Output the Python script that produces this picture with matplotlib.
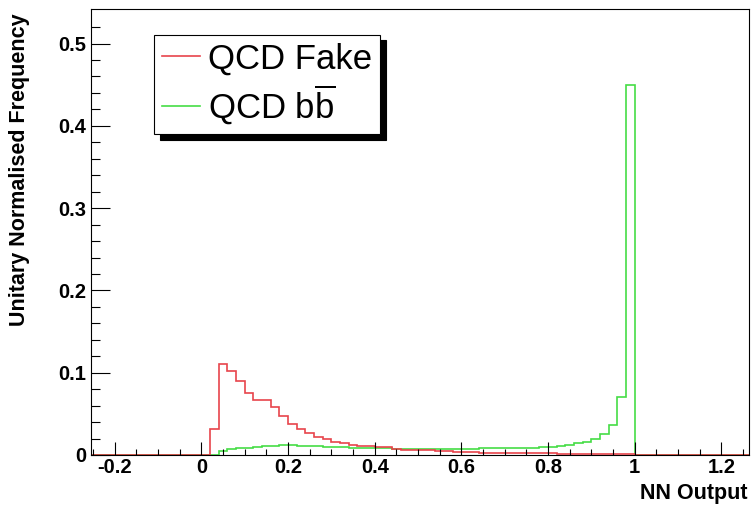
import numpy as np
import matplotlib
matplotlib.use("Agg")
import matplotlib.pyplot as plt

plt.rcParams['font.family'] = ['Liberation Sans', 'DejaVu Sans']

# NN output histograms, 0.02 wide bins from 0.00 to 1.00
bin_width = 0.02
qcd_fake = [0.000, 0.031, 0.110, 0.102, 0.090, 0.075, 0.067, 0.067, 0.058, 0.048,
            0.038, 0.032, 0.027, 0.022, 0.019, 0.016, 0.014, 0.012, 0.011, 0.011,
            0.010, 0.010, 0.007, 0.006, 0.006, 0.006, 0.006, 0.005, 0.005, 0.004,
            0.004, 0.004, 0.003, 0.003, 0.003, 0.003, 0.002, 0.002, 0.002, 0.002,
            0.002, 0.001, 0.001, 0.001, 0.001, 0.001, 0.001, 0.001, 0.001, 0.001]
qcd_bb = [0.000, 0.000, 0.005, 0.007, 0.008, 0.009, 0.010, 0.011, 0.011, 0.012,
          0.012, 0.011, 0.011, 0.011, 0.010, 0.010, 0.010, 0.009, 0.009, 0.008,
          0.008, 0.008, 0.007, 0.007, 0.007, 0.007, 0.007, 0.007, 0.007, 0.007,
          0.007, 0.007, 0.008, 0.008, 0.008, 0.008, 0.009, 0.009, 0.009, 0.010,
          0.010, 0.011, 0.012, 0.014, 0.016, 0.020, 0.025, 0.037, 0.070, 0.450]

# empty bins on both sides, like the full histogram range
n_low, n_high = 13, 14
edges = np.round(np.arange(-n_low, len(qcd_fake) + n_high + 1) * bin_width, 2)
fake_full = np.concatenate([np.zeros(n_low), qcd_fake, np.zeros(n_high)])
bb_full = np.concatenate([np.zeros(n_low), qcd_bb, np.zeros(n_high)])

red = '#e8444c'
green = '#45dd45'

fig = plt.figure(figsize=(7.51, 5.08), dpi=100)
ax = fig.add_axes([91 / 751, 53 / 508, 658 / 751, 446 / 508])

ax.stairs(bb_full, edges, color=green, lw=1.2, label=r'QCD b$\mathregular{\overline{b}}$')
ax.stairs(fake_full, edges, color=red, lw=1.2, label='QCD Fake')

ax.set_xlim(-0.255, 1.264)
ax.set_ylim(0, 0.542)
ax.set_xticks([-0.2, 0, 0.2, 0.4, 0.6, 0.8, 1.0, 1.2])
ax.set_xticklabels(['-0.2', '0', '0.2', '0.4', '0.6', '0.8', '1', '1.2'])
ax.set_xticks(np.arange(-0.25, 1.26, 0.05), minor=True)
ax.set_yticks([0, 0.1, 0.2, 0.3, 0.4, 0.5])
ax.set_yticklabels(['0', '0.1', '0.2', '0.3', '0.4', '0.5'])
ax.set_yticks(np.arange(0, 0.54, 0.02), minor=True)

for lab in ax.get_xticklabels() + ax.get_yticklabels():
    lab.set_fontweight('bold')
ax.tick_params(which='both', direction='in', top=False, right=False, width=0.8,
               labelsize=14.5)
ax.tick_params(axis='x', which='major', length=9.5, pad=2)
ax.tick_params(axis='x', which='minor', length=4)
ax.tick_params(axis='y', which='major', length=14, pad=3.5)
ax.tick_params(axis='y', which='minor', length=6.5)
for sp in ax.spines.values():
    sp.set_linewidth(0.8)

fig.text(748 / 751, 1 - 494 / 508, 'NN Output', ha='right', va='center',
         fontsize=15.5, fontweight='bold')
fig.text(20 / 751, 1 - 13 / 508, 'Unitary Normalised Frequency', ha='center', va='top',
         rotation=90, fontsize=15.5, fontweight='bold')

handles, labels = ax.get_legend_handles_labels()
leg = ax.legend(handles[::-1], labels[::-1], loc='upper left',
                bbox_to_anchor=(0.0957, 0.942), borderaxespad=0,
                fontsize=25, fancybox=False, edgecolor='black', framealpha=1,
                handlelength=1.1, handletextpad=0.25, labelspacing=0.2,
                borderpad=0.22,
                shadow={'ox': 4, 'oy': -4, 'facecolor': 'black',
                        'edgecolor': 'black', 'alpha': 1})
leg.get_frame().set_linewidth(0.8)
for ln in leg.get_lines():
    ln.set_linewidth(1.2)

fig.savefig('out.png', dpi=100)
